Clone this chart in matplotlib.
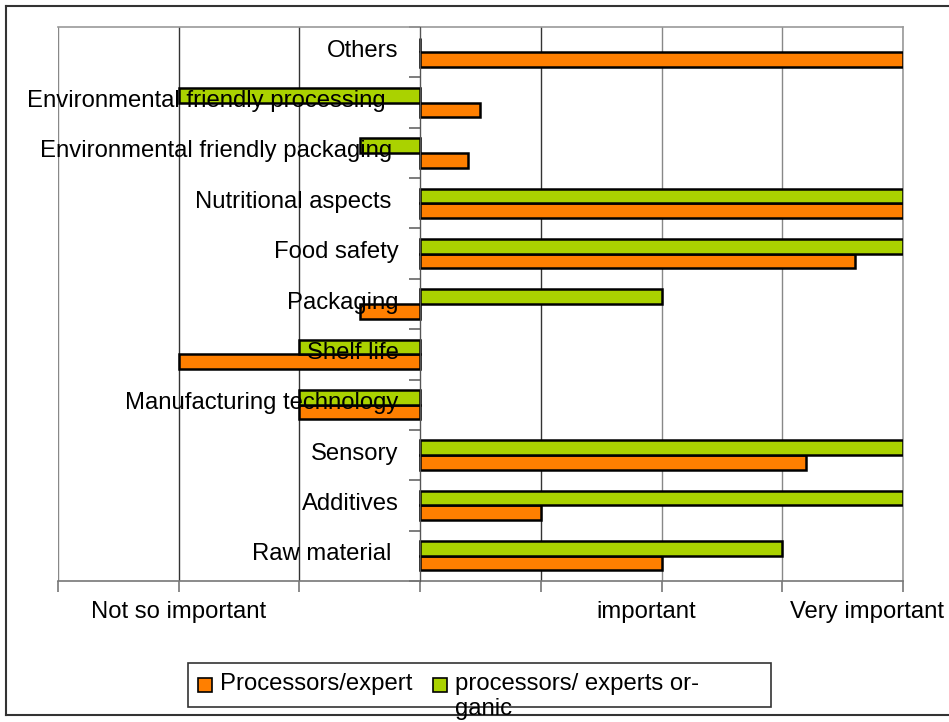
import matplotlib
matplotlib.use("Agg")
import matplotlib.pyplot as plt
from matplotlib.patches import Rectangle
from matplotlib.lines import Line2D
import numpy as np

plt.rcParams['font.family'] = ['Liberation Sans', 'DejaVu Sans']

# Categories listed top to bottom as in the chart
categories = ["Others", "Environmental friendly processing  ", "Environmental friendly packaging ",
              "Nutritional aspects ", "Food safety", "Packaging", "Shelf life",
              "Manufacturing technology", "Sensory", "Additives", "Raw material "]
processors_expert = [4, 0.5, 0.4, 4, 3.6, -0.5, -2, -1, 3.2, 1, 2]
processors_organic = [0, -2, -0.5, 4, 4, 2, -1, -1, 4, 4, 3]
series_names = ["Processors/expert", "processors/ experts or-"]
xtick_labels = {-2: "Not so important", 1.87: "important", 3.7: "Very important"}

ORANGE = "#FF7F00"
GREEN = "#AAD200"
W, H = 949, 722

fig = plt.figure(figsize=(W / 100, H / 100), dpi=100)
ax = fig.add_axes([58 / W, (H - 581) / H, (903 - 58) / W, (581 - 27) / H])

n = len(categories)
ypos = np.arange(n)[::-1]  # Others on top
bh = 0.29
ax.barh(ypos - bh / 2, processors_expert, height=bh, color=ORANGE, edgecolor="black", linewidth=1.8, zorder=3)
ax.barh(ypos + bh / 2, processors_organic, height=bh, color=GREEN, edgecolor="black", linewidth=1.8, zorder=3)

ax.set_xlim(-3, 4)
ax.set_ylim(-0.5, n - 0.5)

# vertical gridlines
for xv in range(-3, 5):
    ax.axvline(xv, color="#333333" if xv in (-2, -1, 1) else "#888888", lw=1.0, zorder=1)

# y-axis at zero
ax.spines['left'].set_position(('data', 0))
ax.spines['left'].set_color("#555555")
ax.spines['left'].set_zorder(4)
ax.set_yticks(np.arange(-0.5, n, 1.0))
ax.set_yticklabels([])
ax.tick_params(axis='y', direction='out', length=8, color="#666666", width=1.2)
for s in ('top', 'right'):
    ax.spines[s].set_color("#999999")
    ax.spines[s].set_linewidth(1.2)
ax.spines['bottom'].set_color("#777777")
ax.spines['bottom'].set_linewidth(1.2)
ax.set_xticks(range(-3, 5))
ax.set_xticklabels([])
ax.tick_params(axis='x', direction='out', length=8, color="#777777", width=1.2)

fs = 17.2
# category labels
for yv, lab in zip(ypos, categories):
    ax.text(-0.18, yv - 0.09, lab, ha='right', va='baseline', fontsize=fs, color="black", zorder=5)

# x tick labels
trans = matplotlib.transforms.blended_transform_factory(ax.transData, fig.transFigure)
for xv, lab in xtick_labels.items():
    ax.text(xv, (H - 618) / H, lab, ha='center', va='baseline', fontsize=fs, transform=trans)

# outer chart-area frame
def fx(p): return p / W
def fy(p): return (H - p) / H
fig.add_artist(Line2D([fx(6), 1], [fy(6), fy(6)], color="#333333", lw=1.5))
fig.add_artist(Line2D([fx(6), fx(6)], [fy(6), fy(715)], color="#333333", lw=1.5))
fig.add_artist(Line2D([fx(6), 1], [fy(715), fy(715)], color="#333333", lw=1.5))

# legend
fig.add_artist(Rectangle((fx(188), fy(707)), fx(771) - fx(188), fy(663) - fy(707),
                         transform=fig.transFigure, facecolor="white", edgecolor="#333333", lw=1.2))
for x0, col, lab in [(198, ORANGE, series_names[0]), (433, GREEN, series_names[1])]:
    fig.add_artist(Rectangle((fx(x0), fy(692)), fx(14), 14 / H, transform=fig.transFigure,
                             facecolor=col, edgecolor="black", lw=1.2))
    fig.text(fx(x0 + 22), fy(690), lab, ha='left', va='baseline', fontsize=fs)
fig.text(fx(455), fy(715), "ganic", ha='left', va='baseline', fontsize=fs)

fig.savefig("out.png", dpi=100)
